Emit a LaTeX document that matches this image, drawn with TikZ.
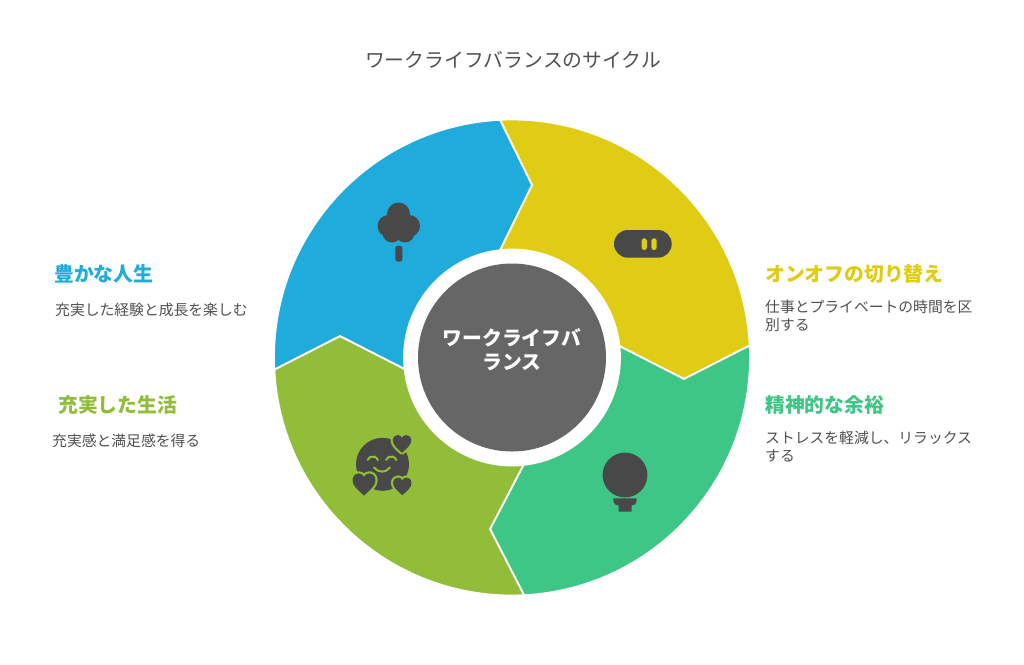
\documentclass[tikz,border=0pt]{standalone}
\usepackage{fontspec}
\usetikzlibrary{calc}
\setmainfont{Noto Sans CJK JP}
\definecolor{cblue}{HTML}{1FABDB}
\definecolor{cyellow}{HTML}{E0CC15}
\definecolor{cgreen}{HTML}{3EC686}
\definecolor{clime}{HTML}{91BD38}
\definecolor{chub}{HTML}{666666}
\definecolor{cicon}{HTML}{484848}
\definecolor{ctext}{HTML}{505050}
\tikzset{
  seg/.style={draw=white,line width=1.8pt,line join=miter},
  icon/.style={fill=cicon,draw=none},
  head/.style={anchor=west,inner sep=0pt,font=\bfseries\fontsize{19.8}{24}\selectfont},
  desc/.style={anchor=west,inner sep=0pt,align=left,text=ctext,font=\fontsize{14.8}{18}\selectfont},
  smile/.style={draw=clime,line width=2pt,line cap=round}
}
\newcommand{\heartpath}{(0,-1) .. controls (-0.5,-0.55) and (-1,-0.15) .. (-1,0.32)
      .. controls (-1,0.72) and (-0.72,0.92) .. (-0.46,0.92)
      .. controls (-0.26,0.92) and (-0.1,0.8) .. (0,0.62)
      .. controls (0.1,0.8) and (0.26,0.92) .. (0.46,0.92)
      .. controls (0.72,0.92) and (1,0.72) .. (1,0.32)
      .. controls (1,-0.15) and (0.5,-0.55) .. (0,-1) -- cycle}
\newcommand{\myheart}[4]{% x, y, scale, halo
  \begin{scope}[shift={(#1,#2)},scale=#3]
    \draw[#4,line width=4.4pt,line join=round] \heartpath;
    \fill[cicon,rounded corners=0pt] \heartpath;
  \end{scope}}
\begin{document}
\begin{tikzpicture}[x=1pt,y=1pt]
\useasboundingbox (0,0) rectangle (1024,-664);
\fill[white] (0,0) rectangle (1024,-664);
\coordinate (C) at (512,-357.5);
\coordinate (n1) at (532,-185);
\coordinate (n2) at (684,-379);
\coordinate (n3) at (490,-529);
\coordinate (n4) at (340,-336);
% segments
\fill[cyellow,seg] ($(C)+(92.9:238)$) arc[start angle=92.9,end angle=2.9,radius=238] -- (n2)
  -- ($(C)+(6.1:108)$) arc[start angle=6.1,end angle=96.4,radius=108] -- (n1) -- cycle;
\fill[cgreen,seg] ($(C)+(2.9:238)$) arc[start angle=2.9,end angle=-87.1,radius=238] -- (n3)
  -- ($(C)+(-83.9:108)$) arc[start angle=-83.9,end angle=6.1,radius=108] -- (n2) -- cycle;
\fill[clime,seg] ($(C)+(-87.1:238)$) arc[start angle=-87.1,end angle=-177.1,radius=238] -- (n4)
  -- ($(C)+(-173.9:108)$) arc[start angle=-173.9,end angle=-83.9,radius=108] -- (n3) -- cycle;
\fill[cblue,seg] ($(C)+(182.9:238)$) arc[start angle=182.9,end angle=92.9,radius=238] -- (n1)
  -- ($(C)+(96.4:108)$) arc[start angle=96.4,end angle=186.1,radius=108] -- (n4) -- cycle;
% hub
\fill[chub] (C) circle[radius=94];
\node[inner sep=0pt,align=center,text=white,font=\bfseries\fontsize{19.8}{24}\selectfont] (hub) at (512,-350) {ワークライフバ\\ランス};
% title
\node[inner sep=0pt,text=ctext,font=\fontsize{19.8}{24}\selectfont] (title) at (513,-60) {ワークライフバランスのサイクル};
% labels
\node[head,text=cblue] (h1) at (54,-274) {豊かな人生};
\node[desc] (d1) at (55,-310) {充実した経験と成長を楽しむ};
\node[head,text=clime] (h2) at (58,-405) {充実した生活};
\node[desc] (d2) at (52,-441) {充実感と満足感を得る};
\node[head,text=cyellow] (h3) at (765,-274) {オンオフの切り替え};
\node[desc] (d3) at (765,-316) {仕事とプライベートの時間を区\\別する};
\node[head,text=cgreen] (h4) at (765,-405) {精神的な余裕};
\node[desc] (d4) at (765,-447) {ストレスを軽減し、リラックス\\する};
% tree icon
\fill[icon] (398.5,-214) circle[radius=11.5] (388.5,-226) circle[radius=11] (409,-226) circle[radius=11]
  (392,-233) circle[radius=9.5] (405,-233) circle[radius=9.5] (398.5,-226) circle[radius=12];
\fill[icon,rounded corners=2.5pt] (395.3,-245.7) rectangle (402.4,-261.7);
% pill icon
\fill[icon,rounded corners=13.8pt] (614,-230) rectangle (671.7,-257.7);
\fill[cyellow,rounded corners=2.5pt] (641.7,-238.3) rectangle (646.8,-250);
\fill[cyellow,rounded corners=2.5pt] (651.4,-238.3) rectangle (656.7,-250);
% bulb icon
\fill[icon] (625,-475) circle[radius=22.4];
\fill[icon] (613.3,-498.3) -- (636.7,-498.3) -- (636.7,-501) .. controls (636.7,-504) and (634,-505.5) .. (631.7,-505.5) -- (631.7,-511.7) -- (618.7,-511.7) -- (618.7,-505.5) .. controls (616,-505.5) and (613.3,-504) .. (613.3,-501) -- cycle;
% smiley icon
\fill[icon] (382.5,-464.3) circle[radius=26.5];
\draw[smile] (367.5,-460) arc[start angle=160,end angle=20,radius=5.5];
\draw[smile] (386,-460) arc[start angle=160,end angle=20,radius=5.5];
\draw[smile] (374,-467.5) .. controls (378,-473) and (386,-473) .. (390,-467.5);
\myheart{402}{-443.5}{9.2}{clime}
\myheart{364}{-484}{11.5}{clime}
\myheart{402.3}{-486}{9.2}{clime}
\end{tikzpicture}
\end{document}
